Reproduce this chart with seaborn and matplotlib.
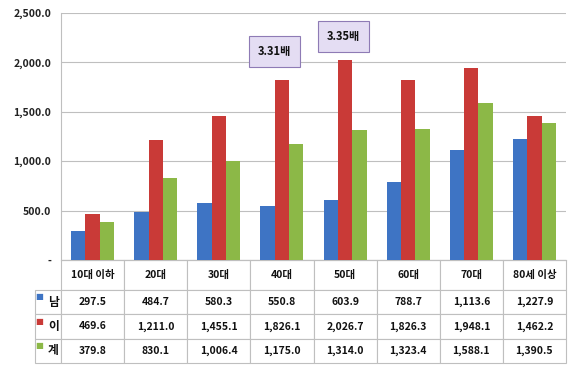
import matplotlib
matplotlib.use('Agg')
import matplotlib.pyplot as plt
from matplotlib.table import Table
import seaborn as sns
import pandas as pd
import numpy as np

categories = ['10대 이하', '20대', '30대', '40대', '50대', '60대', '70대', '80세 이상']
series = ['남', '이', '계']
male = [297.5, 484.7, 580.3, 550.8, 603.9, 788.7, 1113.6, 1227.9]
female = [469.6, 1211.0, 1455.1, 1826.1, 2026.7, 1826.3, 1948.1, 1462.2]
total = [379.8, 830.1, 1006.4, 1175.0, 1314.0, 1323.4, 1588.1, 1390.5]
colors = ['#3E74C4', '#C93A37', '#8CB847']
yticks = [0, 500, 1000, 1500, 2000, 2500]
notes = [('40대', 2110, '3.31배'), ('50대', 2265, '3.35배')]

df = pd.DataFrame({'구분': categories * 3,
                   '계열': np.repeat(series, len(categories)),
                   '값': male + female + total})

sns.set_style('white')
plt.rcParams['font.family'] = ['Noto Sans CJK KR', 'DejaVu Sans']

W, H = 580, 371
fig = plt.figure(figsize=(W / 100, H / 100), dpi=100)
ax_l, ax_r, ax_t, ax_b = 61, 566, 13, 260
ax = fig.add_axes([ax_l / W, 1 - ax_b / H, (ax_r - ax_l) / W, (ax_b - ax_t) / H])

sns.barplot(data=df, x='구분', y='값', hue='계열', palette=colors, width=0.68,
            saturation=1, edgecolor='none', legend=False, ax=ax, zorder=3)

ax.set_xlim(-0.5, len(categories) - 0.5)
ax.set_ylim(0, 2500)
ax.set_yticks(yticks)
ax.set_yticklabels(['-' if v == 0 else f'{v:,.1f}' for v in yticks],
                   fontsize=7.5, fontweight='bold', color='#222222')
ax.tick_params(axis='y', length=0, pad=7)
ax.set_xticks([])
ax.set_xlabel('')
ax.set_ylabel('')
ax.yaxis.grid(True, color='#BFBFBF', lw=0.8, zorder=0)
for s in ['top', 'right']:
    ax.spines[s].set_visible(False)
for s in ['left', 'bottom']:
    ax.spines[s].set_color('#BFBFBF')
    ax.spines[s].set_linewidth(0.8)

# ratio callouts
for cat, yv, txt in notes:
    xi = categories.index(cat)
    ax.text(xi - 0.12 if cat == '40대' else xi - 0.02, yv, txt, ha='center', va='center',
            fontsize=8, fontweight='bold', color='#111111', zorder=5,
            bbox=dict(boxstyle='square,pad=0.8', fc='#E4DDF3', ec='#8E7BB5', lw=0.8))

# data table under the axis (units: axes fraction)
axh = ax_b - ax_t
axw = ax_r - ax_l
head_h, row_h, lab_w = 30 / axh, 24.3 / axh, 26 / axw
col_w = 1 / len(categories)
tot_h = head_h + 3 * row_h
tbl = Table(ax, bbox=[0, -tot_h, 1, tot_h])
tbl.auto_set_font_size(False)

def style(cell, size=7.5):
    cell.set_edgecolor('#BFBFBF')
    cell.set_linewidth(0.8)
    cell.get_text().set_fontsize(size)
    cell.get_text().set_fontweight('bold')
    cell.get_text().set_color('#111111')

for j, cat in enumerate(categories):
    style(tbl.add_cell(0, j, col_w, head_h, text=cat, loc='center'))
for i, (name, vals) in enumerate(zip(series, (male, female, total))):
    c = tbl.add_cell(i + 1, -1, lab_w, row_h, text=name, loc='right')
    c.PAD = 0.08
    style(c, 8.5)
    for j, v in enumerate(vals):
        style(tbl.add_cell(i + 1, j, col_w, row_h, text=f'{v:,.1f}', loc='center'))
tbl.set_clip_on(False)
ax.add_table(tbl)

# legend keys inside row label cells
for i, col in enumerate(colors):
    top = 30 + 24.3 * i
    ax.text(-22 / axw, -(top + 7) / axh, '■', color=col, fontsize=6,
            ha='center', va='center', transform=ax.transAxes, family='DejaVu Sans')

fig.savefig('out.png', dpi=100)
